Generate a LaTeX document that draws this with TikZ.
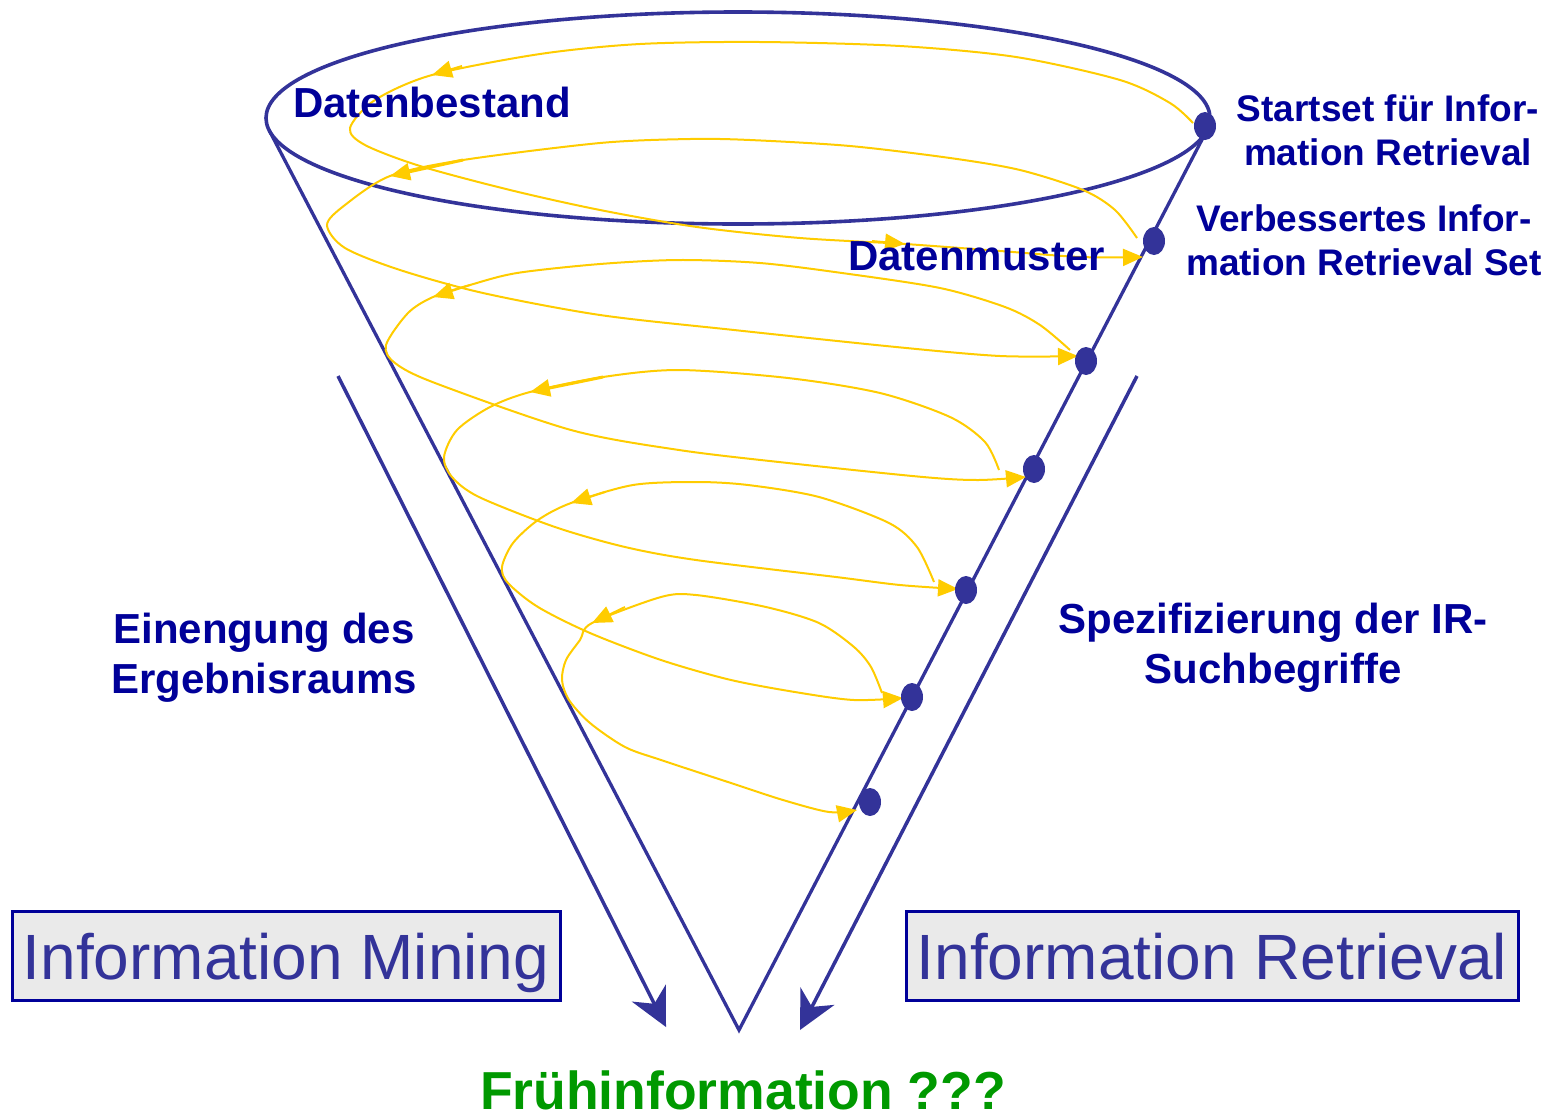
\documentclass[tikz,border=0pt]{standalone}
\usepackage{fontspec}
\setmainfont{Liberation Sans}
\usetikzlibrary{arrows.meta,shapes.geometric}
\definecolor{coneblue}{RGB}{51,51,153}
\definecolor{lblue}{RGB}{0,0,153}
\definecolor{yel}{RGB}{255,204,0}
\definecolor{grn}{RGB}{0,153,0}
\definecolor{boxfill}{RGB}{234,234,234}
\tikzset{
  cone/.style={draw=coneblue,line width=3.3pt},
  bigarrow/.style={draw=coneblue,line width=3.5pt,-{Stealth[length=38pt,width=38pt,inset=12pt]}},
  yline/.style={draw=yel,line width=2pt},
  ytip/.style={-{Triangle[length=20pt,width=17pt]}},
  dot/.style={ellipse,fill=coneblue,minimum width=22pt,minimum height=28pt,inner sep=0pt},
  lbl/.style={text=lblue,font=\fontsize{42}{50}\selectfont\bfseries,inner sep=0pt,align=center},
  lbls/.style={text=lblue,font=\fontsize{37}{44}\selectfont\bfseries,inner sep=0pt,align=center},
  infobox/.style={draw=lblue,fill=boxfill,line width=3pt,text=coneblue,
    font=\fontsize{64}{70}\selectfont,minimum height=89pt,inner sep=0pt,
    text height=52pt,text depth=5pt},
}
\begin{document}
\begin{tikzpicture}[x=1pt,y=-1pt]
\useasboundingbox (0,0) rectangle (1549,1117);
% cone
\coordinate (ctop) at (738,118);
\coordinate (tl) at (269,130);
\coordinate (tr) at (1207,130);
\coordinate (apex) at (739,1030);
\draw[draw=coneblue,line width=3.6pt] (ctop) ellipse [x radius=472, y radius=106];
\draw[cone,line join=miter] (tl) -- (apex) -- (tr);
% big arrows
\coordinate (la) at (338,376);
\coordinate (lb) at (666,1027);
\coordinate (ra) at (1137,376);
\coordinate (rb) at (800,1030);
\draw[bigarrow] (la) -- (lb);
\draw[bigarrow] (ra) -- (rb);
% spiral start/end coordinates
\coordinate (s1) at (1193,123); \coordinate (e1) at (1143,257);
\coordinate (s2) at (1137,238); \coordinate (e2) at (1078,356);
\coordinate (s3) at (1070,350); \coordinate (e3) at (1026,477);
\coordinate (s4) at (999,470);  \coordinate (e4) at (958,589);
\coordinate (s5) at (934,582);  \coordinate (e5) at (903,698);
\coordinate (s6) at (882,693);  \coordinate (e6) at (857,810);
% spiral loops
\draw[yline,ytip] plot[smooth] coordinates {(s1) (1170,103) (1120,80) (1016,57) (900,46) (760,42) (640,44) (540,54) (432,75) (375,100) (350,128) (365,145) (420,166) (510,190) (600,210) (697,227) (800,238) (905,244) (1000,251) (1080,257) (e1)};
\draw[yline,ytip] plot[smooth] coordinates {(s2) (1115,210) (1083,190) (1020,170) (950,158) (850,146) (750,140) (690,139) (600,143) (463,160) (390,176) (345,205) (327,225) (345,248) (400,270) (483,293) (600,315) (734,330) (896,347) (1000,356) (e2)};
\draw[yline,ytip] plot[smooth] coordinates {(s3) (1040,325) (1005,307) (940,288) (842,273) (760,263) (679,260) (600,264) (517,273) (470,285) (433,297) (408,313) (386,345) (395,363) (435,383) (571,430) (679,450) (788,463) (923,477) (978,480) (e3)};
\draw[yline,ytip] plot[smooth] coordinates {(s4) (985,442) (950,417) (880,393) (788,378) (679,370) (603,377) (530,392) (490,407) (457,430) (444,457) (452,477) (479,497) (555,527) (625,547) (696,560) (836,577) (900,585) (e4)};
\draw[yline,ytip] plot[smooth] coordinates {(s5) (917,547) (889,523) (819,497) (748,485) (696,482) (633,485) (571,503) (538,520) (513,543) (502,567) (508,583) (538,607) (590,633) (661,660) (731,680) (801,693) (854,700) (e5)};
\draw[yline,ytip] plot[smooth] coordinates {(s6) (871,667) (854,647) (819,623) (766,607) (696,595) (661,597) (592,623) (580,640) (566,660) (562,680) (569,700) (590,723) (625,747) (661,760) (731,783) (783,800) (829,812) (e6)};
% mid-loop arrowheads
\coordinate (m1a) at (462,66);  \coordinate (m1b) at (432,75);
\coordinate (m1c) at (872,241); \coordinate (m1d) at (905,244);
\coordinate (m2a) at (463,160); \coordinate (m2b) at (390,176);
\coordinate (m3a) at (470,285); \coordinate (m3b) at (433,297);
\coordinate (m4a) at (603,377); \coordinate (m4b) at (530,392);
\coordinate (m5a) at (605,492); \coordinate (m5b) at (571,503);
\coordinate (m6a) at (625,607); \coordinate (m6b) at (592,623);
\draw[yline,ytip] (m1a) -- (m1b);
\draw[yline,ytip] (m1c) -- (m1d);
\draw[yline,ytip,line width=3pt] (m2a) -- (m2b);
\draw[yline,ytip] (m3a) -- (m3b);
\draw[yline,ytip,line width=3pt] (m4a) -- (m4b);
\draw[yline,ytip] (m5a) -- (m5b);
\draw[yline,ytip] (m6a) -- (m6b);
% dots
\node[dot] (d1) at (1205,126) {};
\node[dot] (d2) at (1154,241) {};
\node[dot] (d3) at (1086,361) {};
\node[dot] (d4) at (1034,469) {};
\node[dot] (d5) at (966,590) {};
\node[dot] (d6) at (912,697) {};
\node[dot] (d7) at (870,802) {};
% labels (anchor=base is the baseline of the last line)
\node[lbl,anchor=base west] (datenbestand) at (293,117) {Datenbestand};
\node[lbl,anchor=base west] (datenmuster) at (848,270) {Datenmuster};
\node[lbls,anchor=base] (startset) at (1388,165) {Startset für Infor-\\mation Retrieval};
\node[lbls,anchor=base] (verbessert) at (1364,275) {Verbessertes Infor-\\mation Retrieval Set};
\node[lbl,anchor=base] (einengung) at (264,693) {Einengung des\\Ergebnisraums};
\node[lbl,anchor=base] (spezifizierung) at (1273,683) {Spezifizierung der IR-\\Suchbegriffe};
\node[text=grn,font=\fontsize{53.5}{60}\selectfont\bfseries,inner sep=0pt,anchor=base] (fruehinfo) at (743,1109) {Frühinformation ???};
% boxes
\node[infobox,minimum width=548pt] (mining) at (286,955.5) {Information Mining};
\node[infobox,minimum width=612pt] (retrieval) at (1212,955.5) {Information Retrieval};
\end{tikzpicture}
\end{document}
